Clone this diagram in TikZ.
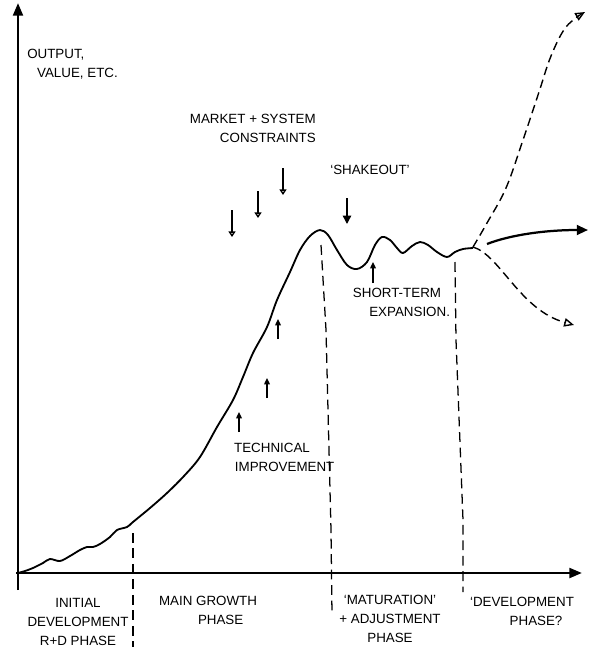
\documentclass[tikz,border=0pt]{standalone}
\usepackage{fontspec}
\setmainfont{Liberation Sans}
\usetikzlibrary{arrows.meta,positioning}

\begin{document}
\begin{tikzpicture}[
  x=0.025cm, y=-0.025cm,
  lbl/.style={font=\fontsize{9.5}{13.5}\selectfont, align=center, inner sep=0pt},
  axis/.style={line width=1.8pt, -{Triangle[length=9pt,width=7pt]}},
  growth/.style={line width=1.3pt, line join=round},
  phase/.style={line width=0.9pt, dash pattern=on 7pt off 4pt},
  trend/.style={line width=1pt, dash pattern=on 6pt off 3.5pt, -{Triangle[open,length=7pt,width=6pt]}},
  push/.style={line width=1pt, -{Triangle[open,length=4pt,width=5pt]}},
  lift/.style={line width=1pt, -{Triangle[length=4.5pt,width=4pt]}}
]
  \useasboundingbox (0,0) rectangle (600,653);

  % axes
  \coordinate (ybot) at (18,590);
  \coordinate (ytop) at (18,3);
  \coordinate (xleft) at (16,573);
  \coordinate (xright) at (582,573);
  \draw[axis] (ybot) -- (ytop);
  \draw[axis] (xleft) -- (xright);

  % life-cycle curve
  \draw[growth] plot[smooth, tension=0.55] coordinates {
    (18,573) (25,571) (33,568) (43,563) (50,559) (60,561) (70,556) (80,550)
    (87,547) (93,547) (100,544) (110,537) (117,530) (127,527) (133,522)
    (150,508) (167,493) (184,476) (200,457) (217,427) (233,400) (243,377)
    (253,353) (267,327) (277,300) (290,272) (300,250) (310,236) (320,230)
    (328,235) (337,250) (347,265) (357,269) (367,262) (375,245) (382,237)
    (390,240) (397,248) (403,253) (412,246) (420,242) (428,245) (437,252)
    (447,257) (455,252) (463,249) (473,248)};

  % phase boundaries
  \draw[phase] (133,533) -- (133,647);
  \draw[phase] (321,245) -- (326,330) -- (331,530) -- (332,615);
  \draw[phase] (455,262) -- (456,340) -- (463,520) -- (463,592);

  % futures
  \coordinate (fork) at (473,247);
  \coordinate (up) at (585,12);
  \coordinate (flat0) at (487,244);
  \coordinate (flat) at (588,230);
  \coordinate (down) at (574,325);
  \draw[trend] plot[smooth, tension=0.6] coordinates {
    (fork) (487,223) (506,188) (523,140) (539,92) (551,56) (566,27) (up)};
  \draw[line width=1.6pt, -{Triangle[length=8pt,width=7pt]}]
    (flat0) .. controls (510,235) and (545,230) .. (flat);
  \draw[trend] (fork) .. controls (500,255) and (520,310) .. (down);

  % labels
  \node[lbl, align=left, anchor=west] (outlbl) at (27,64) {OUTPUT,\\\hspace*{7pt}VALUE, ETC.};
  \node[lbl, align=right, anchor=east] (conslbl) at (316,128) {MARKET + SYSTEM\\CONSTRAINTS};
  \node[lbl] (shakelbl) at (370,170) {`SHAKEOUT'};
  \node[lbl] (shortlbl) at (397,302) {SHORT-TERM\\\hspace*{18pt}EXPANSION.};
  \node[lbl] (techlbl) at (272,457) {TECHNICAL\\\hspace*{18pt}IMPROVEMENT};
  \node[lbl] (rdlbl) at (78,622) {INITIAL\\DEVELOPMENT\\R+D PHASE};
  \node[lbl] (growlbl) at (208,610) {MAIN GROWTH\\\hspace*{18pt}PHASE};
  \node[lbl] (maturlbl) at (390,619) {`MATURATION'\\+ ADJUSTMENT\\PHASE};
  \node[lbl] (devlbl) at (522,611) {`DEVELOPMENT\\\hspace*{20pt}PHASE?};

  % constraint arrows
  \coordinate (c1a) at (232,210); \coordinate (c1b) at (232,237);
  \coordinate (c2a) at (258,191); \coordinate (c2b) at (258,218);
  \coordinate (c3a) at (283,168); \coordinate (c3b) at (283,195);
  \draw[push] (c1a) -- (c1b);
  \draw[push] (c2a) -- (c2b);
  \draw[push] (c3a) -- (c3b);

  % shakeout / expansion arrows
  \coordinate (s1a) at (347,198); \coordinate (s1b) at (347,224);
  \coordinate (s2a) at (373,283); \coordinate (s2b) at (373,262);
  \draw[line width=1pt, -{Triangle[length=6pt,width=6pt]}] (s1a) -- (s1b);
  \draw[lift] (s2a) -- (s2b);

  % improvement arrows
  \coordinate (t1a) at (278,339); \coordinate (t1b) at (278,319);
  \coordinate (t2a) at (267,398); \coordinate (t2b) at (267,378);
  \coordinate (t3a) at (239,432); \coordinate (t3b) at (239,412);
  \draw[lift] (t1a) -- (t1b);
  \draw[lift] (t2a) -- (t2b);
  \draw[lift] (t3a) -- (t3b);
\end{tikzpicture}
\end{document}
